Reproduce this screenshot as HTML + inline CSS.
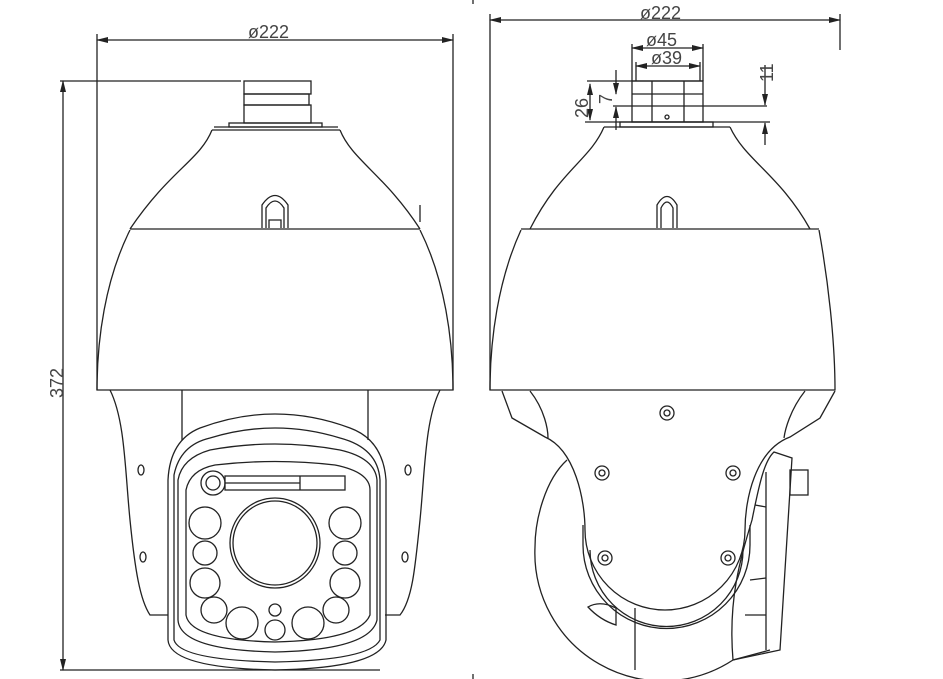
<!DOCTYPE html>
<html><head><style>body{margin:0;background:#fff}svg{display:block}text{font-family:"Liberation Sans",sans-serif;font-size:18px;fill:#444;stroke:none}</style></head><body>
<svg width="943" height="679" viewBox="0 0 943 679" fill="none" stroke="#222" stroke-width="1.3">
<defs><marker id="a" markerWidth="12" markerHeight="6" refX="11" refY="3" orient="auto-start-reverse" markerUnits="userSpaceOnUse"><path d="M0,0L12,3L0,6z" fill="#222" stroke="none"/></marker></defs>
<!-- LEFT VIEW -->
<line x1="97" y1="40" x2="453" y2="40" marker-start="url(#a)" marker-end="url(#a)"/>
<line x1="97" y1="34" x2="97" y2="390"/><line x1="453" y1="34" x2="453" y2="390"/>
<text x="248" y="38">ø222</text>
<line x1="63" y1="81" x2="63" y2="670" marker-start="url(#a)" marker-end="url(#a)"/>
<line x1="60" y1="81" x2="241" y2="81"/><line x1="60" y1="670" x2="380" y2="670"/>
<text transform="translate(63,398) rotate(-90)">372</text>
<rect x="244" y="81" width="67" height="13"/><rect x="244" y="94" width="65" height="11"/><rect x="244" y="105" width="67" height="18"/>
<rect x="229" y="123" width="93" height="4"/><path d="M212,130 L340,130 M214,127 L338,127"/>
<path d="M212,130 C200,160 170,170 130,229 M340,130 C352,160 385,175 420,229"/>
<path d="M130,229 L420,229 M130,230 C105,280 97,340 97,390 L453,390 C453,340 445,280 420,230"/>
<path d="M262,228 L262,205 Q275,186 288,205 L288,228 M266,228 L266,208 Q275,194 284,208 L284,228 M269,228 L269,220 L281,220 L281,228"/>
<path d="M420,222 L420,205"/>
<path d="M110,390 C125,420 125,470 130,520 C135,570 140,600 150,615 L168,615 M440,390 C425,420 425,470 420,520 C415,570 412,600 400,615 L385,615"/>
<path d="M182,390 L182,440 M368,390 L368,440"/>
<path d="M168,640 L168,480 Q170,440 200,428 Q275,400 350,428 Q383,440 386,480 L386,640 Q380,668 275,670 Q170,668 168,640z"/>
<path d="M174,640 L174,475 Q180,445 210,438 Q275,418 340,438 Q378,448 380,480 L380,640 Q370,660 275,662 Q180,660 174,640z"/>
<path d="M178,480 Q182,458 210,450 Q275,438 340,450 Q375,458 377,480 L377,620 Q370,650 275,652 Q180,650 178,620z"/>
<path d="M186,490 Q190,470 215,465 Q275,458 335,465 Q370,472 370,490 L370,615 Q360,640 275,642 Q190,640 186,615z"/>
<circle cx="213" cy="483" r="12"/><circle cx="213" cy="483" r="7"/>
<rect x="225" y="476" width="120" height="14"/><path d="M225,483 L300,483 M300,476 L300,490"/>
<circle cx="275" cy="543" r="45"/><circle cx="275" cy="543" r="42"/>
<g><circle cx="205" cy="523" r="16"/><circle cx="205" cy="553" r="12"/><circle cx="205" cy="583" r="15"/>
<circle cx="345" cy="523" r="16"/><circle cx="345" cy="553" r="12"/><circle cx="345" cy="583" r="15"/>
<circle cx="214" cy="610" r="13"/><circle cx="242" cy="623" r="16"/><circle cx="275" cy="630" r="10"/><circle cx="275" cy="610" r="6"/><circle cx="308" cy="623" r="16"/><circle cx="336" cy="610" r="13"/></g>
<ellipse cx="141" cy="470" rx="3" ry="5"/><ellipse cx="143" cy="557" rx="3" ry="5"/><ellipse cx="408" cy="470" rx="3" ry="5"/><ellipse cx="405" cy="557" rx="3" ry="5"/>
<!-- RIGHT VIEW -->
<line x1="490" y1="20" x2="840" y2="20" marker-start="url(#a)" marker-end="url(#a)"/>
<line x1="490" y1="14" x2="490" y2="390"/><line x1="840" y1="14" x2="840" y2="50"/>
<text x="640" y="19">ø222</text>
<line x1="632" y1="48" x2="703" y2="48" marker-start="url(#a)" marker-end="url(#a)"/>
<line x1="636" y1="66" x2="700" y2="66" marker-start="url(#a)" marker-end="url(#a)"/>
<text x="646" y="46">ø45</text><text x="651" y="64">ø39</text>
<path d="M632,44 L632,81 M703,44 L703,81 M636,62 L636,81 M700,62 L700,81"/>
<line x1="587" y1="81" x2="703" y2="81"/><line x1="613" y1="106" x2="767" y2="106"/><line x1="585" y1="122" x2="770" y2="122"/>
<line x1="590" y1="84" x2="590" y2="120" marker-start="url(#a)" marker-end="url(#a)"/>
<line x1="616" y1="70" x2="616" y2="94" marker-end="url(#a)"/><line x1="616" y1="130" x2="616" y2="107" marker-end="url(#a)"/>
<line x1="765" y1="65" x2="765" y2="105" marker-end="url(#a)"/><line x1="765" y1="145" x2="765" y2="123" marker-end="url(#a)"/>
<text transform="translate(588,118) rotate(-90)">26</text><text transform="translate(612,104) rotate(-90)">7</text><text transform="translate(773,82) rotate(-90)">11</text>
<rect x="632" y="81" width="71" height="41"/><path d="M632,94 L703,94 M652,81 L652,122 M684,81 L684,122"/><circle cx="667" cy="117" r="2"/>
<rect x="620" y="122" width="93" height="5"/><path d="M604,127 L730,127"/>
<path d="M604,127 C590,160 560,170 530,229 M730,127 C745,160 780,175 810,229"/>
<path d="M521,229 L819,229 M521,230 C498,280 490,340 490,390 L835,390 C835,340 828,280 819,230"/>
<path d="M657,228 L657,205 Q667,188 677,205 L677,228 M661,228 L661,208 Q667,196 673,208 L673,228"/>
<path d="M502,391 L512,418 L545,437 C575,450 585,500 585,530 A78,78 0 0 0 745,530 C745,500 755,450 790,437 L820,418 L835,391"/>
<path d="M530,391 C545,410 548,430 548,438 M805,391 C790,410 785,430 784,438"/>
<path d="M583,525 L583,545 A82,82 0 0 0 750,545 L750,525 M590,550 A75,75 0 0 0 743,550"/>
<path d="M567,460 C545,480 535,520 535,547 A128,128 0 0 0 733,660 L770,650"/>
<path d="M635,608 L635,670 M774,452 L792,458 L780,650 L733,660 C728,600 740,560 752,520 C760,480 765,460 774,452z M766,472 L766,650"/>
<rect x="790" y="470" width="18" height="25"/>
<path d="M755,505 L766,507 M750,580 L766,578 M745,615 L766,615"/>
<path d="M588,607 Q600,600 616,608 L616,625 Q600,620 588,607z"/>
<g><circle cx="667" cy="413" r="7"/><circle cx="667" cy="413" r="3"/><circle cx="602" cy="473" r="7"/><circle cx="602" cy="473" r="3"/><circle cx="733" cy="473" r="7"/><circle cx="733" cy="473" r="3"/><circle cx="605" cy="558" r="7"/><circle cx="605" cy="558" r="3"/><circle cx="728" cy="558" r="7"/><circle cx="728" cy="558" r="3"/></g>
<line x1="473" y1="0" x2="473" y2="4"/><line x1="473" y1="674" x2="473" y2="679"/>
</svg>
</body></html>
